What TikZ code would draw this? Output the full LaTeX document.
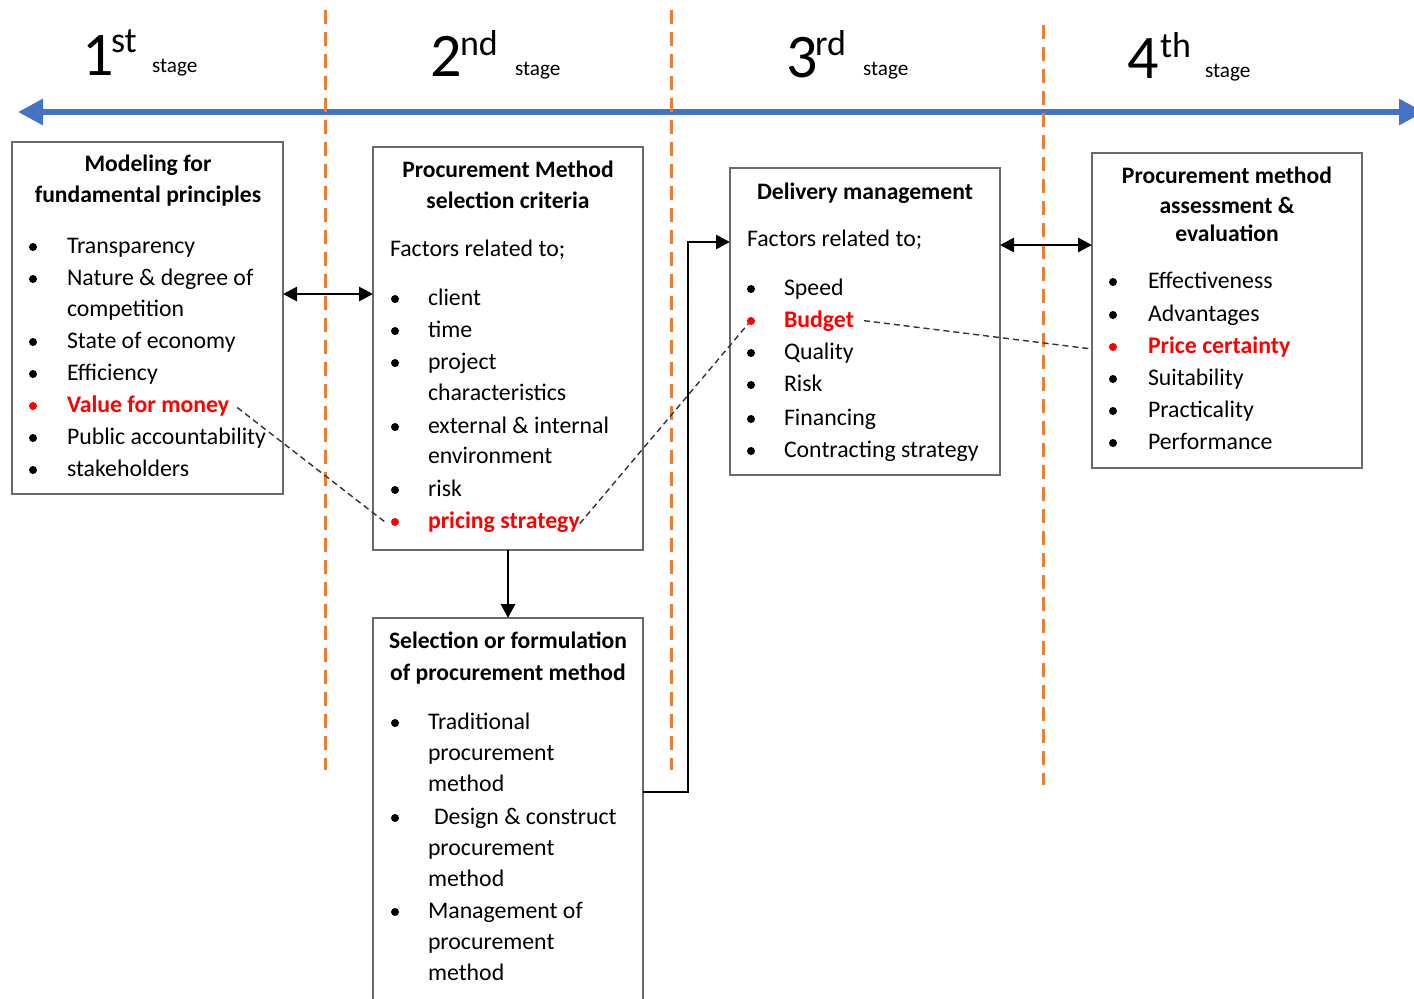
\documentclass[tikz,border=0pt]{standalone}
\usepackage{fontspec}
\setmainfont{Carlito}
\usetikzlibrary{arrows.meta}
\definecolor{axisblue}{HTML}{4472C4}
\definecolor{stageorange}{HTML}{ED7D31}
\definecolor{hilite}{HTML}{FF0000}
\definecolor{boxgray}{HTML}{6A6A6A}
\definecolor{linkgray}{HTML}{333333}

\begin{document}
\begin{tikzpicture}[x=0.5pt,y=-0.5pt,
  every node/.style={inner sep=0pt, outer sep=0pt},
  box/.style={draw=boxgray, line width=1pt, anchor=north west, fill=white},
  txt/.style={anchor=base west, font=\fontsize{11.9}{14}\selectfont},
  hot/.style={anchor=base west, text=hilite, font=\fontsize{11.9}{14}\selectfont\bfseries},
  ttl/.style={anchor=base, font=\fontsize{11.8}{14}\selectfont\bfseries},
  dot/.style={circle, fill=black, minimum size=4pt},
  hotdot/.style={circle, fill=hilite, minimum size=4pt},
  digit/.style={anchor=base west, font=\fontsize{31}{34}\selectfont},
  ord/.style={anchor=base west, font=\fontsize{18}{20}\selectfont},
  stg/.style={anchor=base west, font=\fontsize{10.6}{12}\selectfont},
  timeline/.style={axisblue, line width=3pt, {Triangle[length=12.5pt,width=12.5pt]}-{Triangle[length=12.5pt,width=12.5pt]}},
  divider/.style={stageorange, line width=1.5pt, dash pattern=on 7pt off 4pt},
  link/.style={black, line width=1.4pt},
  dbl/.style={link, {Triangle[length=7pt,width=7pt]}-{Triangle[length=7pt,width=7pt]}},
  one/.style={link, -{Triangle[length=7pt,width=7pt]}},
  trace/.style={linkgray, line width=0.7pt, dash pattern=on 3pt off 2pt}]

\useasboundingbox (0,0) rectangle (1414,998);

% timeline and stage dividers
\coordinate (tl) at (18,112);
\coordinate (tr) at (1424,112);
\draw[timeline] (tl) -- (tr);
\coordinate (d1a) at (325,10);  \coordinate (d1b) at (325,770);
\coordinate (d2a) at (671,10);  \coordinate (d2b) at (671,770);
\coordinate (d3a) at (1043,25); \coordinate (d3b) at (1043,785);
\draw[divider] (d1a) -- (d1b);
\draw[divider] (d2a) -- (d2b);
\draw[divider] (d3a) -- (d3b);

% stage headings
\node[digit] (s1n) at (82,75) {1};
\node[ord]   (s1o) at (111,52) {st};
\node[stg]   (s1s) at (152,72) {stage};
\node[digit] (s2n) at (430,76) {2};
\node[ord]   (s2o) at (460,55) {nd};
\node[stg]   (s2s) at (515,75) {stage};
\node[digit] (s3n) at (786,77) {3};
\node[ord]   (s3o) at (815,55) {rd};
\node[stg]   (s3s) at (863,75) {stage};
\node[digit] (s4n) at (1127,78) {4};
\node[ord]   (s4o) at (1160,57) {th};
\node[stg]   (s4s) at (1205,77) {stage};

% boxes
\node[box, minimum width=135.5pt, minimum height=176pt]   (b1) at (12,142) {};
\node[box, minimum width=135pt,   minimum height=201.5pt] (b2) at (373,147) {};
\node[box, minimum width=135pt,   minimum height=196pt]   (b3) at (373,618) {};
\node[box, minimum width=135pt,   minimum height=153.5pt] (b4) at (730,168) {};
\node[box, minimum width=135pt,   minimum height=157.5pt] (b5) at (1092,153) {};

% box 1: fundamental principles
\node[ttl] (t1a) at (148,171) {Modeling for};
\node[ttl] (t1b) at (148,202) {fundamental principles};
\foreach \yy/\tx [count=\i] in {253/Transparency, 285/{Nature \& degree of}, 316/competition,
    348/State of economy, 380/Efficiency, 444/Public accountability, 476/stakeholders}
  \node[txt] (a\i) at (67,\yy) {\tx};
\node[hot] (vfm) at (67,412) {Value for money};
\foreach \yy [count=\i] in {247,279,342,374,438,470}
  \node[dot] (ad\i) at (33,\yy) {};
\node[hotdot] (vfmd) at (33,406) {};

% box 2: selection criteria
\node[ttl] (t2a) at (508,177) {Procurement Method};
\node[ttl] (t2b) at (508,208) {selection criteria};
\node[txt] (f2) at (390,256) {Factors related to;};
\foreach \yy/\tx [count=\i] in {305/client, 337/time, 369/project, 400/characteristics,
    433/{external \& internal}, 463/environment, 496/risk}
  \node[txt] (c\i) at (428,\yy) {\tx};
\node[hot] (prs) at (428,528) {pricing strategy};
\foreach \yy [count=\i] in {299,331,363,427,490}
  \node[dot] (cd\i) at (395,\yy) {};
\node[hotdot] (prsd) at (395,522) {};

% box 3: procurement method
\node[ttl] (t3a) at (508,648) {Selection or formulation};
\node[ttl] (t3b) at (508,680) {of procurement method};
\foreach \yy/\tx [count=\i] in {729/Traditional, 760/procurement, 791/method,
    855/procurement, 886/method, 918/Management of, 949/procurement, 980/method}
  \node[txt] (m\i) at (428,\yy) {\tx};
\node[txt] (mdc) at (434,824) {Design \& construct};
\foreach \yy [count=\i] in {723,818,912}
  \node[dot] (md\i) at (395,\yy) {};

% box 4: delivery management
\node[ttl] (t4a) at (865,199) {Delivery management};
\node[txt] (f4) at (747,246) {Factors related to;};
\foreach \yy/\tx [count=\i] in {295/Speed, 359/Quality, 391/Risk, 425/Financing, 457/Contracting strategy}
  \node[txt] (d\i) at (784,\yy) {\tx};
\node[hot] (bud) at (784,327) {Budget};
\foreach \yy [count=\i] in {289,353,385,419,451}
  \node[dot] (dd\i) at (751,\yy) {};
\node[hotdot] (budd) at (751,321) {};

% box 5: assessment and evaluation
\node[ttl] (t5a) at (1227,183) {Procurement method};
\node[ttl] (t5b) at (1227,213) {assessment \&};
\node[ttl] (t5c) at (1227,241) {evaluation};
\foreach \yy/\tx [count=\i] in {288/Effectiveness, 321/Advantages, 385/Suitability, 417/Practicality, 449/Performance}
  \node[txt] (e\i) at (1148,\yy) {\tx};
\node[hot] (pce) at (1148,353) {Price certainty};
\foreach \yy [count=\i] in {282,315,379,411,443}
  \node[dot] (ed\i) at (1113,\yy) {};
\node[hotdot] (pced) at (1113,347) {};

% flow connectors
\coordinate (r12) at (0,294);
\coordinate (r45) at (0,245);
\coordinate (bend) at (688,792);
\coordinate (r34) at (0,242);
\draw[dbl] (b1.east |- r12) -- (b2.west |- r12);
\draw[one] (b2.south) -- (b3.north);
\draw[one] (b3.east |- bend) -- (bend) |- (b4.west |- r34);
\draw[dbl] (b4.east |- r45) -- (b5.west |- r45);

% price-related traces
\coordinate (r5) at (0,349);
\draw[trace] ([xshift=4pt,yshift=-1pt]vfm.east) -- ([xshift=-3pt]prsd.west);
\draw[trace] ([xshift=0pt,yshift=-1pt]prs.east) -- (budd.south west);
\draw[trace] ([xshift=5pt]bud.east) -- (b5.west |- r5);

\end{tikzpicture}
\end{document}
